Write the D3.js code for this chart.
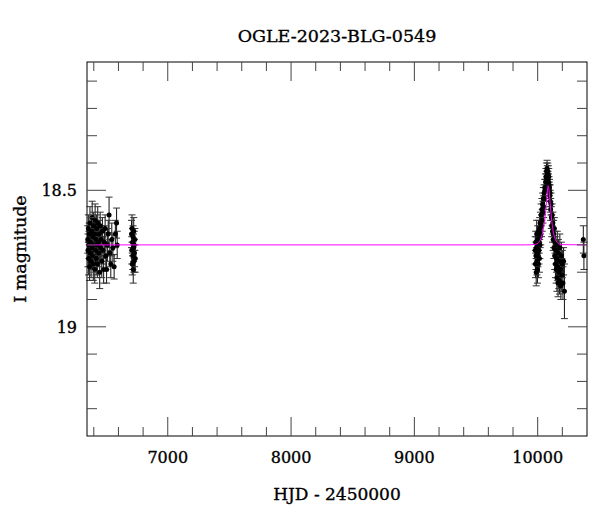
<!DOCTYPE html>
<html>
<head>
<meta charset="utf-8">
<script src="https://cdn.jsdelivr.net/npm/d3@7"></script>
<style>
  body { margin: 0; background: #fff; }
  text { font-family: "DejaVu Serif", serif; fill: #000; stroke: #000; stroke-width: 0.35px; }
</style>
</head>
<body>
<div id="graph"></div>
<script>
// OGLE-2023-BLG-0549 light curve
const title = "OGLE-2023-BLG-0549"
const xLabel = "HJD - 2450000"
const yLabel = "I magnitude"

const xMajor = [7000, 8000, 9000, 10000]
const yMajor = [18.5, 19]
const yMajorLabels = ["18.5", "19"]

// season 1
const s1Time = [6351,6353,6356,6358,6361,6363,6366,6369,6372,6375,6378,6381,6384,6387,6390,6393,6396,6399,6402,6405,6408,6411,6414,6417,6420,6423,6426,6429,6432,6436,6440,6444,6448,6452,6456,6460,6465,6470,6475,6480,6486,6492,6498,6504,6510,6517,6524,6530,6538,6546,6555,6565,6575,6585,6590]
const s1Mag = [18.68,18.72,18.64,18.75,18.70,18.66,18.78,18.62,18.73,18.69,18.76,18.65,18.71,18.60,18.74,18.67,18.77,18.63,18.70,18.66,18.79,18.61,18.72,18.68,18.75,18.64,18.70,18.77,18.62,18.69,18.73,18.66,18.80,18.63,18.71,18.68,18.76,18.65,18.72,18.79,18.69,18.64,18.74,18.79,18.70,18.66,18.59,18.73,18.77,18.68,18.71,18.78,18.66,18.62,18.70]
const s1Err = [0.05,0.06,0.05,0.06,0.05,0.04,0.05,0.06,0.05,0.05,0.06,0.05,0.04,0.06,0.05,0.05,0.06,0.05,0.05,0.04,0.05,0.06,0.05,0.05,0.06,0.05,0.05,0.05,0.06,0.05,0.05,0.05,0.06,0.05,0.04,0.05,0.06,0.05,0.05,0.05,0.06,0.05,0.05,0.05,0.06,0.05,0.065,0.05,0.05,0.06,0.05,0.045,0.05,0.055,0.05]

// season 2
const s2Time = [6706,6708,6710,6712,6714,6716,6718,6720,6722,6724,6726,6728,6730,6733,6736]
const s2Mag = [18.66,18.72,18.64,18.77,18.69,18.74,18.67,18.79,18.71,18.65,18.76,18.70,18.73,18.68,18.75]
const s2Err = [0.05,0.05,0.05,0.04,0.05,0.05,0.04,0.05,0.05,0.05,0.04,0.05,0.05,0.04,0.05]

// event season
const s3Time = [9980,9982,9984,9986,9988,9990,9992,9994,9996,9998,10000,10002,10004,10006,10008,10010,10012,10014,10016,10018,10020,
    10022,10025,10028,10031,10034,10037,10040,10043,10046,10049,10052,10055,10058,10061,10064,
    10067,10070,10072,10074,10076,10078,10080,10082,10084,10086,10088,10090,10092,10094,10096,10098,10100,
    10102,10105,10108,10111,10114,10117,10120,10123,10126,10129,10132,10135,10138,10141,10144,10147,10150,
    10153,10156,10159,10162,10165,10168,10171,10174,10177,10180,10184,10188,10192,10196,10200,10205,10210,10217,
    10370,10375]
const s3Mag = [18.72,18.77,18.69,18.74,18.80,18.71,18.66,18.76,18.73,18.79,18.68,18.74,18.70,18.77,18.65,18.72,18.69,18.75,18.64,18.70,18.67,
    18.62,18.66,18.59,18.63,18.57,18.61,18.55,18.58,18.53,18.56,18.51,18.53,18.49,18.50,18.47,
    18.45,18.47,18.43,18.46,18.42,18.44,18.45,18.43,18.46,18.44,18.47,18.45,18.48,18.50,18.49,18.52,18.51,
    18.54,18.57,18.55,18.60,18.63,18.59,18.65,18.62,18.68,18.66,18.71,18.64,18.74,18.69,18.77,18.72,18.79,
    18.75,18.82,18.70,18.78,18.84,18.73,18.80,18.76,18.83,18.71,18.79,18.85,18.74,18.81,18.77,18.84,18.76,18.87,
    18.68,18.74]
const s3Err = [0.05,0.05,0.04,0.05,0.05,0.04,0.05,0.05,0.04,0.05,0.05,0.04,0.05,0.05,0.04,0.05,0.04,0.05,0.04,0.05,0.04,
    0.04,0.04,0.04,0.04,0.04,0.04,0.04,0.04,0.04,0.04,0.03,0.04,0.03,0.04,0.03,
    0.03,0.03,0.03,0.03,0.03,0.03,0.03,0.03,0.03,0.03,0.03,0.03,0.03,0.03,0.03,0.04,0.03,
    0.04,0.04,0.04,0.04,0.04,0.04,0.04,0.04,0.04,0.05,0.04,0.04,0.05,0.04,0.05,0.05,0.05,
    0.05,0.05,0.05,0.05,0.05,0.05,0.06,0.05,0.05,0.05,0.06,0.05,0.05,0.06,0.05,0.06,0.05,0.10,
    0.05,0.05]

// model curve
const modelTime = [6345,9900,9980,10010,10030,10045,10055,10065,10073,10080,10085,10090,10097,10105,10115,10125,10140,10160,10190,10400]
const modelMag = [18.700,18.700,18.698,18.690,18.672,18.645,18.615,18.575,18.535,18.500,18.483,18.492,18.525,18.570,18.615,18.648,18.675,18.692,18.699,18.700]

const width = 600
const height = 512
const mLeft = 87, mRight = 587, mTop = 62, mBottom = 436

const svg = d3.select("#graph").append("svg")
    .attr("width", width)
    .attr("height", height)

let x = d3.scaleLinear().domain([6345, 10400]).range([mLeft, mRight])
let y = d3.scaleLinear().domain([18.03, 19.40]).range([mTop, mBottom])

// data rows
let points = []
;[[s1Time, s1Mag, s1Err], [s2Time, s2Mag, s2Err], [s3Time, s3Mag, s3Err]].forEach(s => {
    s[0].forEach((t, i) => points.push({t: t, m: s[1][i], e: s[2][i]}))
})

const plot = svg.append("g")

// error bars
plot.selectAll(".eb").data(points).enter().append("line")
    .attr("x1", d => x(d.t)).attr("x2", d => x(d.t))
    .attr("y1", d => y(d.m - d.e)).attr("y2", d => y(d.m + d.e))
    .attr("stroke", "#111").attr("stroke-width", 1)
;[-1, 1].forEach(sg => {
    plot.selectAll(".cap" + sg).data(points).enter().append("line")
        .attr("x1", d => x(d.t) - 3.5).attr("x2", d => x(d.t) + 3.5)
        .attr("y1", d => y(d.m + sg * d.e)).attr("y2", d => y(d.m + sg * d.e))
        .attr("stroke", "#333").attr("stroke-width", 1)
})
plot.selectAll("circle").data(points).enter().append("circle")
    .attr("cx", d => x(d.t)).attr("cy", d => y(d.m)).attr("r", 2.5)
    .attr("fill", "#000")

// model
plot.append("path").datum(modelTime.map((t, i) => [t, modelMag[i]]))
    .attr("fill", "none").attr("stroke", "#ff00ff").attr("stroke-width", 1)
    .attr("d", d3.line().x(d => x(d[0])).y(d => y(d[1])).curve(d3.curveMonotoneX))

// frame
svg.append("rect").attr("x", mLeft).attr("y", mTop)
    .attr("width", mRight - mLeft).attr("height", mBottom - mTop)
    .attr("fill", "none").attr("stroke", "#000").attr("stroke-width", 1)

// ticks, on all four sides
const tickCol = "#444"
d3.range(6400, 10400, 200).forEach(v => {
    let len = v % 1000 == 0 ? 19 : 9
    svg.append("line").attr("x1", x(v)).attr("x2", x(v)).attr("y1", mBottom).attr("y2", mBottom - len).attr("stroke", tickCol)
    svg.append("line").attr("x1", x(v)).attr("x2", x(v)).attr("y1", mTop).attr("y2", mTop + len).attr("stroke", tickCol)
})
d3.range(181, 194).map(v => v / 10).forEach(v => {
    let len = Math.abs(v * 2 - Math.round(v * 2)) < 1e-6 ? 19 : 10
    svg.append("line").attr("x1", mLeft).attr("x2", mLeft + len).attr("y1", y(v)).attr("y2", y(v)).attr("stroke", tickCol)
    svg.append("line").attr("x1", mRight).attr("x2", mRight - len).attr("y1", y(v)).attr("y2", y(v)).attr("stroke", tickCol)
})

// tick labels
svg.selectAll(".xl").data(xMajor).enter().append("text")
    .attr("x", d => x(d)).attr("y", 463)
    .attr("text-anchor", "middle").attr("font-size", 16)
    .text(d => d)
svg.selectAll(".yl").data(yMajor).enter().append("text")
    .attr("x", 77).attr("y", d => y(d) + 6)
    .attr("text-anchor", "end").attr("font-size", 16)
    .text((d, i) => yMajorLabels[i])

// titles
svg.append("text").attr("x", (mLeft + mRight) / 2).attr("y", 42)
    .attr("text-anchor", "middle").attr("font-size", 17.5).text(title)
svg.append("text").attr("x", (mLeft + mRight) / 2).attr("y", 500)
    .attr("text-anchor", "middle").attr("font-size", 17).text(xLabel)
svg.append("text").attr("transform", "translate(26," + (mTop + mBottom) / 2 + ") rotate(-90)")
    .attr("text-anchor", "middle").attr("font-size", 17.5).text(yLabel)
</script>
</body>
</html>
